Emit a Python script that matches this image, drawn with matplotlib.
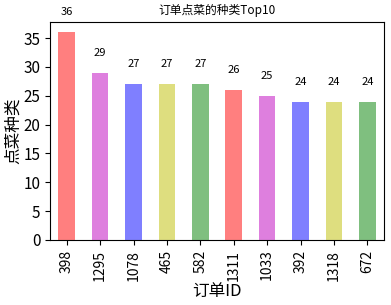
import matplotlib
matplotlib.use("Agg")
import matplotlib.pyplot as plt

plt.rcParams['font.family'] = ['Noto Sans CJK SC', 'DejaVu Sans']
plt.rcParams['axes.unicode_minus'] = False

# data
order_ids = ['398', '1295', '1078', '465', '582', '1311', '1033', '392', '1318', '672']
dish_counts = [36, 29, 27, 27, 27, 26, 25, 24, 24, 24]
bar_colors = ['r', 'm', 'b', 'y', 'g']

W, H = 391, 305
fig = plt.figure(figsize=(W / 100, H / 100), dpi=100)
ax = fig.add_axes([50 / W, (H - 240) / H, (384 - 50) / W, (240 - 22) / H])

x = range(len(order_ids))
colors = [bar_colors[i % len(bar_colors)] for i in x]
ax.bar(x, dish_counts, width=0.5, color=colors, alpha=0.5)
ax.set_xlim(-0.5, len(order_ids) - 0.5)
ax.set_ylim(0, 37.8)
ax.set_yticks(range(0, 36, 5))
ax.set_xticks(list(x))
ax.set_xticklabels(order_ids, rotation=90, fontsize=10)
ax.tick_params(axis='y', labelsize=11)

for i, v in zip(x, dish_counts):
    ax.text(i, v + 2.6, str(v), ha='center', va='bottom', fontsize=8, clip_on=False)

ax.set_title('订单点菜的种类Top10', fontsize=8.5, pad=6)
ax.set_xlabel('订单ID', fontsize=12)
ax.xaxis.set_label_coords(0.5, -0.195)
ax.set_ylabel('点菜种类', fontsize=12, labelpad=1)

fig.savefig('out.png', dpi=100)
